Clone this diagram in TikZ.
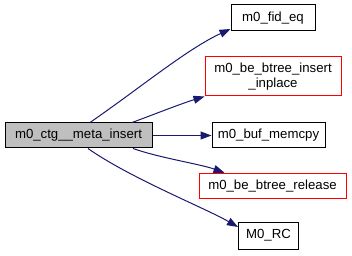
\documentclass[tikz,border=0pt]{standalone}
\usepackage{fontspec}
\setmainfont{Liberation Sans}
\usetikzlibrary{arrows.meta}
\definecolor{edgeblue}{HTML}{191970}
\definecolor{mainfill}{HTML}{BFBFBF}
\begin{document}
\begin{tikzpicture}[x=1pt,y=-1pt,
  fn/.style={draw=black, line width=1pt, fill=white, inner sep=0pt,
    minimum height=25pt, align=center, font=\fontsize{13.2}{15}\selectfont},
  fnred/.style={fn, draw=red},
  fnmain/.style={fn, fill=mainfill},
  call/.style={draw=edgeblue, line width=1pt,
    -{Triangle[length=11pt,width=8pt]}, fill=none}]
\useasboundingbox (0,0) rectangle (352,256);

\node[fnmain, minimum width=147pt] (main) at (78.5,135.5) {m0\_ctg\_\_meta\_insert};
\node[fn, minimum width=84pt, minimum height=26pt] (fid) at (273,18) {m0\_fid\_eq};
\node[fnred, minimum width=136pt, minimum height=39pt] (inplace) at (273,76.5)
  {m0\_be\_btree\_insert\\\_inplace};
\node[fn, minimum width=113pt] (memcpy) at (268.5,135.5) {m0\_buf\_memcpy};
\node[fnred, minimum width=147pt] (release) at (272.5,185.75) {m0\_be\_btree\_release};
\node[fn, minimum width=60pt, minimum height=27pt] (rc) at (268.5,235.5) {M0\_RC};

\draw[call] ([xshift=11.5pt]main.north) .. controls (140,88) and (187,49) .. ([yshift=-11pt]fid.west);
\draw[call] ([xshift=53.5pt]main.north) .. controls (150,116) and (180,104) .. (inplace.south west);
\draw[call] (main.east) -- (memcpy.west);
\draw[call] ([xshift=54.5pt]main.south) .. controls (160,158) and (200,164) .. ([xshift=26pt]release.north west);
\draw[call] ([xshift=9.5pt]main.south) .. controls (130,178) and (205,208) .. ([yshift=8.5pt]rc.west);
\end{tikzpicture}
\end{document}
